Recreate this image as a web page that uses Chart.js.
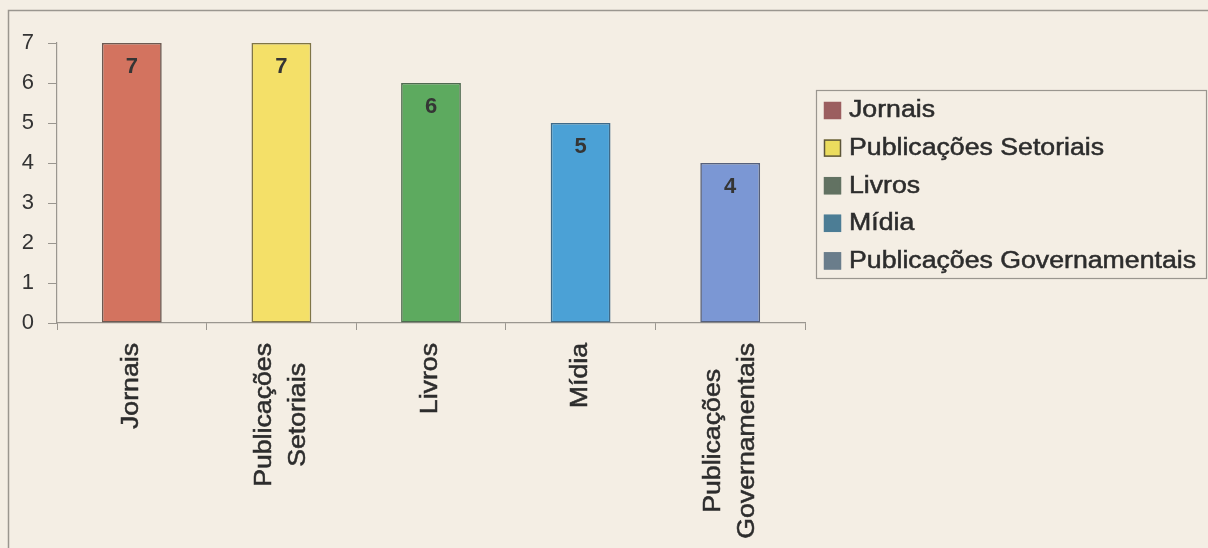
<!DOCTYPE html>
<html>
<head>
<meta charset="utf-8">
<script src="https://cdn.jsdelivr.net/npm/chart.js@4.4.0/dist/chart.umd.min.js"></script>
<style>
  html, body { margin: 0; padding: 0; background: #f4eee4; }
  #wrap { width: 1208px; height: 548px; }
</style>
</head>
<body>
<div id="wrap"><canvas id="chart" width="1208" height="548"></canvas></div>
<script>
// categories and their counts
const categories = ['Jornais', 'Publicações Setoriais', 'Livros', 'Mídia', 'Publicações Governamentais'];
const axisLabels = [['Jornais'], ['Publicações', 'Setoriais'], ['Livros'], ['Mídia'], ['Publicações', 'Governamentais']];
const counts = [7, 7, 6, 5, 4];
const yMax = 7;

const barColors = ['#d3735f', '#f4e068', '#5daa5f', '#4ba1d6', '#7b97d4'];
const barBorders = ['#6c5a52', '#7f7546', '#4f6a50', '#3f6a88', '#56607a'];
const legendFills = ['#9b5e5f', '#ebdc5e', '#627262', '#4c7d95', '#6a7d8b'];
const legendBorders = ['#9b5e5f', '#5c553a', '#627262', '#4c7d95', '#6a7d8b'];

const BG = '#f4eee4';
const FRAME = '#9a968f';
const INK = '#2c2c2c';
const FONT = '"Liberation Sans", Arial, sans-serif';
const STRETCH = 1.16; // labels are set a bit wide

function stretchedText(ctx, text, x, y) {
  ctx.save();
  ctx.translate(x, y);
  ctx.scale(STRETCH, 1);
  ctx.strokeText(text, 0, 0);
  ctx.fillText(text, 0, 0);
  ctx.restore();
}

const backgroundPlugin = {
  id: 'background',
  beforeDraw(chart) {
    const { ctx, width, height } = chart;
    ctx.save();
    ctx.fillStyle = BG;
    ctx.fillRect(0, 0, width, height);
    ctx.strokeStyle = FRAME;
    ctx.lineWidth = 1.5;
    ctx.strokeRect(8.5, 10.5, width + 20, height + 20);
    ctx.restore();
  },
};

const valueLabelPlugin = {
  id: 'valueLabels',
  afterDatasetsDraw(chart) {
    const { ctx } = chart;
    const meta = chart.getDatasetMeta(0);
    ctx.save();
    ctx.font = `bold 22px ${FONT}`;
    ctx.fillStyle = '#353535';
    ctx.textAlign = 'center';
    ctx.textBaseline = 'middle';
    meta.data.forEach((bar, i) => {
      ctx.fillText(String(counts[i]), bar.x, bar.y + 24);
    });
    ctx.restore();
  },
};

const axisLabelPlugin = {
  id: 'axisLabels',
  afterDraw(chart) {
    const { ctx } = chart;
    const xScale = chart.scales.x;
    const top = xScale.top + 20;
    const pitch = 34;
    ctx.save();
    ctx.font = `23px ${FONT}`;
    ctx.fillStyle = INK;
    ctx.strokeStyle = INK;
    ctx.lineWidth = 0.5;
    ctx.textAlign = 'center';
    ctx.textBaseline = 'middle';
    axisLabels.forEach((lines, i) => {
      const cx = xScale.getPixelForValue(i);
      const widest = Math.max(...lines.map((l) => ctx.measureText(l).width)) * STRETCH;
      ctx.save();
      ctx.translate(cx, top);
      ctx.rotate(-Math.PI / 2);
      lines.forEach((line, j) => {
        const offset = (j - (lines.length - 1) / 2) * pitch;
        stretchedText(ctx, line, -widest / 2, offset);
      });
      ctx.restore();
    });
    ctx.restore();
  },
};

const legendPlugin = {
  id: 'boxLegend',
  afterDraw(chart) {
    const { ctx } = chart;
    const box = { left: 816.5, top: 90.5, right: 1206.5, bottom: 278.5 };
    const rowTop = 110;
    const rowPitch = 37.6;
    ctx.save();
    ctx.strokeStyle = FRAME;
    ctx.lineWidth = 1.2;
    ctx.strokeRect(box.left, box.top, box.right - box.left, box.bottom - box.top);
    ctx.font = `23px ${FONT}`;
    ctx.textAlign = 'left';
    ctx.textBaseline = 'middle';
    categories.forEach((name, i) => {
      const y = rowTop + i * rowPitch;
      ctx.fillStyle = legendFills[i];
      ctx.fillRect(824, y - 8, 17, 17);
      ctx.strokeStyle = legendBorders[i];
      ctx.lineWidth = 1.5;
      ctx.strokeRect(824.5, y - 7.5, 16, 16);
      ctx.fillStyle = INK;
      ctx.strokeStyle = INK;
      ctx.lineWidth = 0.5;
      stretchedText(ctx, name, 849, y + 1);
    });
    ctx.restore();
  },
};

const chart = new Chart(document.getElementById('chart'), {
  type: 'bar',
  data: {
    labels: categories,
    datasets: [{
      data: counts,
      backgroundColor: barColors,
      borderColor: barBorders,
      borderWidth: 1.6,
      borderSkipped: false,
      barPercentage: 0.4,
      categoryPercentage: 1,
    }],
  },
  options: {
    responsive: false,
    animation: false,
    devicePixelRatio: 1,
    layout: { padding: { left: 0, top: 43, right: 403, bottom: 0 } },
    plugins: {
      legend: { display: false },
      tooltip: { enabled: false },
    },
    scales: {
      x: {
        offset: true,
        grid: { offset: true, drawOnChartArea: false, drawTicks: true, tickLength: 7, color: FRAME },
        border: { color: FRAME, width: 1.2 },
        ticks: { display: false },
        afterFit: (scale) => { scale.height = 225; },
      },
      y: {
        min: 0,
        max: yMax,
        grid: { drawOnChartArea: false, drawTicks: true, tickLength: 9, color: FRAME },
        border: { color: FRAME, width: 1.2 },
        ticks: {
          stepSize: 1,
          padding: 14,
          color: '#333333',
          font: { family: FONT, size: 22 },
        },
        afterFit: (scale) => { scale.width = 57; },
      },
    },
  },
  plugins: [backgroundPlugin, valueLabelPlugin, axisLabelPlugin, legendPlugin],
});
</script>
</body>
</html>
